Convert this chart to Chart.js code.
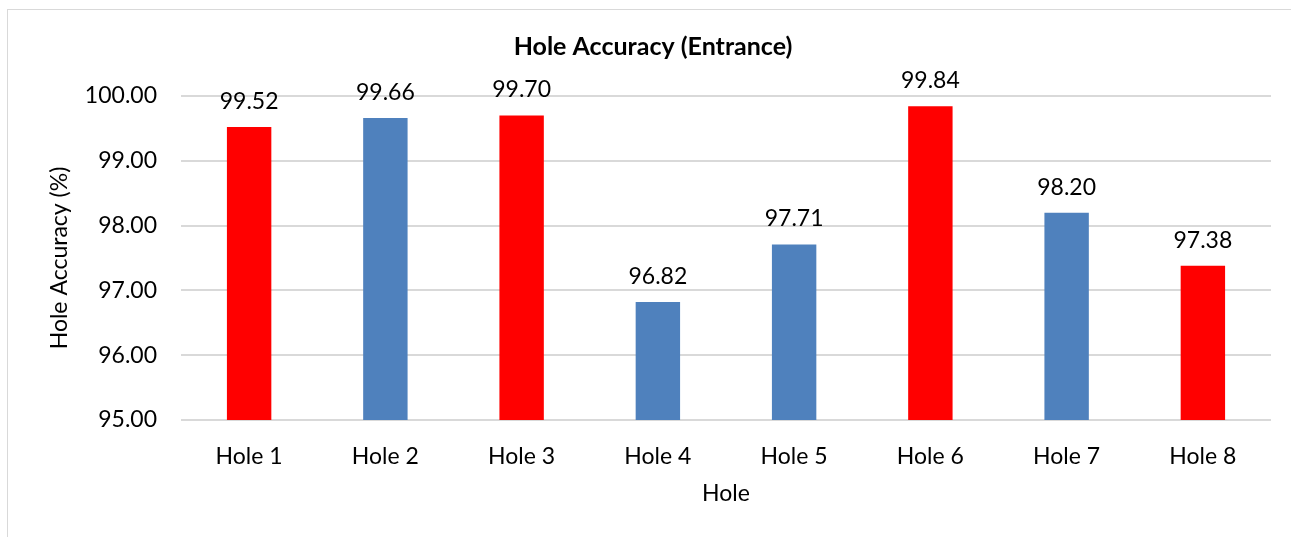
<!DOCTYPE html>
<html>
<head>
<meta charset="utf-8">
<script src="https://cdn.jsdelivr.net/npm/chart.js@4/dist/chart.umd.min.js"></script>
<style>
  html, body { margin: 0; padding: 0; background: #fff; }
  #wrap { position: relative; width: 1291px; height: 537px; overflow: hidden; }
  #frame { position: absolute; left: 7px; top: 9px; width: 1400px; height: 700px;
           border-left: 1px solid #d9d9d9; border-top: 1px solid #d9d9d9; box-sizing: border-box; }
  canvas { position: absolute; left: 0; top: 0; }
</style>
</head>
<body>
<div id="wrap">
  <div id="frame"></div>
  <canvas id="chart" width="1291" height="537"></canvas>
</div>
<script>
// Entrance hole accuracy per hole
const holes = ['Hole 1', 'Hole 2', 'Hole 3', 'Hole 4', 'Hole 5', 'Hole 6', 'Hole 7', 'Hole 8'];
const accuracy = [99.52, 99.66, 99.70, 96.82, 97.71, 99.84, 98.20, 97.38];
const highlight = [true, false, true, false, false, true, false, true];
const yTicks = [95, 96, 97, 98, 99, 100];

const RED = '#FF0000';
const BLUE = '#4F81BD';
const FONT = 'Lato, "Open Sans", sans-serif';

// value labels above each bar
const valueLabels = {
  id: 'valueLabels',
  afterDatasetsDraw(chart) {
    const ctx = chart.ctx;
    const meta = chart.getDatasetMeta(0);
    ctx.save();
    ctx.font = '23px ' + FONT;
    ctx.fillStyle = '#000';
    ctx.textAlign = 'center';
    ctx.textBaseline = 'alphabetic';
    meta.data.forEach((bar, i) => {
      ctx.fillText(accuracy[i].toFixed(2), bar.x, bar.y - 18);
    });
    ctx.restore();
  }
};

// chart heading
const heading = {
  id: 'heading',
  afterDraw(chart) {
    const ctx = chart.ctx;
    ctx.save();
    ctx.font = 'bold 25px ' + FONT;
    ctx.fillStyle = '#000';
    ctx.textAlign = 'center';
    ctx.textBaseline = 'middle';
    ctx.fillText('Hole Accuracy (Entrance)', 653, 47);
    ctx.restore();
  }
};

new Chart(document.getElementById('chart'), {
  type: 'bar',
  data: {
    labels: holes,
    datasets: [{
      data: accuracy,
      backgroundColor: highlight.map(h => h ? RED : BLUE),
      borderWidth: 0,
      categoryPercentage: 1,
      barPercentage: 0.326
    }]
  },
  options: {
    responsive: false,
    animation: false,
    devicePixelRatio: 1,
    layout: { padding: { top: 96, right: 20, left: 0, bottom: 0 } },
    plugins: {
      legend: { display: false },
      title: { display: false },
      tooltip: { enabled: false }
    },
    scales: {
      x: {
        grid: { display: false },
        border: { display: false },
        ticks: { color: '#000', font: { family: FONT, size: 23 }, padding: 15, maxRotation: 0 },
        title: { display: true, text: 'Hole', color: '#000', font: { family: FONT, size: 23 }, padding: { top: 0, bottom: 30 } },
        afterFit(scale) { scale.height = 117; }
      },
      y: {
        min: yTicks[0],
        max: yTicks[yTicks.length - 1],
        afterBuildTicks(scale) { scale.ticks = yTicks.map(v => ({ value: v })); },
        grid: { color: '#d9d9d9', lineWidth: 2, drawTicks: false },
        border: { display: false },
        ticks: { color: '#000', font: { family: FONT, size: 23 }, padding: 24,
                 callback: v => Number(v).toFixed(2) },
        title: { display: true, text: 'Hole Accuracy (%)', color: '#000', font: { family: FONT, size: 23 }, padding: { top: 46, bottom: 0 } },
        afterFit(scale) { scale.width = 181; }
      }
    }
  },
  plugins: [valueLabels, heading]
});
</script>
</body>
</html>
